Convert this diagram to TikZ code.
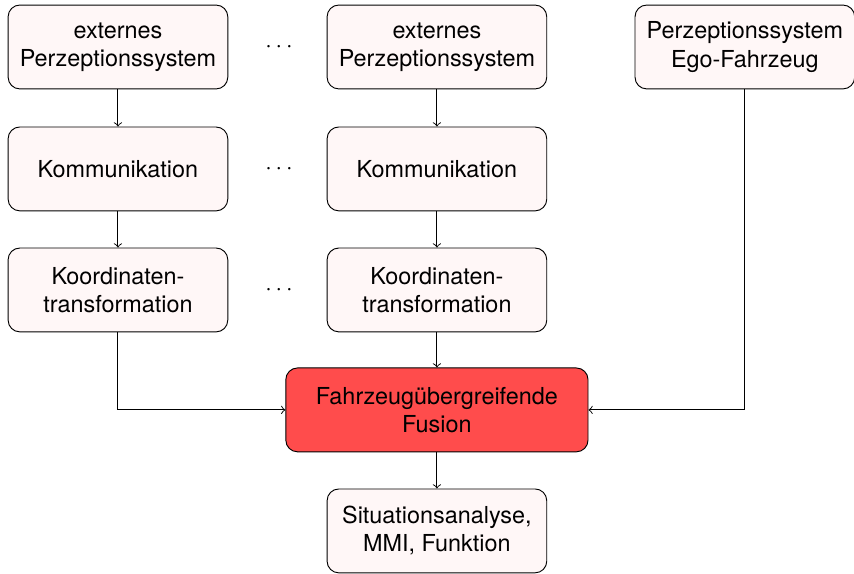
\documentclass[tikz,border=0pt]{standalone}
\usepackage{fontspec}
\setmainfont{TeX Gyre Heros}
\usepackage{tikz}
\usetikzlibrary{arrows.meta}

\tikzset{
    block/.style={draw, rounded corners=5pt, fill=red!3, align=center,
        minimum width=3.3cm, minimum height=1.26cm, inner sep=2pt},
    fusionblock/.style={block, fill=red!70, minimum width=4.54cm},
    line/.style={->, >=to}
}

\begin{document}
\begin{tikzpicture}
\useasboundingbox (0,0) rectangle (12.83,-8.61);
%\tikzstyle{dots}=[inner sep=0pt]
\begin{scope}
    \node[block] (ext1) at (1.772,-0.706) {externes\\Perzeptionssystem};
    \node[block] (ext2) at (6.564,-0.706) {externes\\Perzeptionssystem};
    \node[block] (ego) at (11.19,-0.706) {Perzeptionssystem\\Ego-Fahrzeug};

    \node[block] (kom1) at (1.772,-2.538) {Kommunikation};
    \node[block] (kom2) at (6.564,-2.538) {Kommunikation};

    \node[block] (trafo1) at (1.772,-4.356) {Koordinaten-\\transformation};
    \node[block] (trafo2) at (6.564,-4.356) {Koordinaten-\\transformation};

    \node (dots1) at (4.19,-0.706) {$\cdots$};
    \node (dots2) at (4.19,-2.538) {$\cdots$};
    \node (dots3) at (4.19,-4.356) {$\cdots$};
\end{scope}
\node[fusionblock] (fusion) at (6.564,-6.158) {Fahrzeugübergreifende\\Fusion};
\node[block] (sit) at (6.564,-7.976) {Situationsanalyse,\\MMI, Funktion};

\draw[line] (ext1) -- (kom1);
\draw[line] (ext2) -- (kom2);
\draw[line] (kom1) -- (trafo1);
\draw[line] (kom2) -- (trafo2);
\draw[line] (trafo2) -- (fusion);
\draw[line] (trafo1.south) |- (fusion.west);
\draw[line] (ego.south) |- (fusion.east);
\draw[line] (fusion) -- (sit);
\end{tikzpicture}
\end{document}
